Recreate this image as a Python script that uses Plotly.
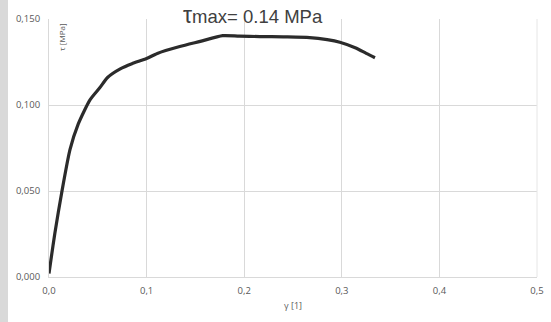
import plotly.graph_objects as go

# Data (shear strain gamma [1], shear stress tau [MPa])
gamma = [0.000, 0.002, 0.006, 0.013, 0.0215, 0.030, 0.042, 0.052, 0.060, 0.073,
         0.085, 0.100, 0.111, 0.134, 0.155, 0.178, 0.195, 0.216, 0.240, 0.267,
         0.285, 0.298, 0.315, 0.325, 0.334]
tau = [0.002, 0.010, 0.0255, 0.049, 0.074, 0.089, 0.103, 0.110, 0.116, 0.121,
       0.124, 0.127, 0.130, 0.134, 0.137, 0.1403, 0.1400, 0.1398, 0.1396, 0.1392,
       0.1380, 0.1365, 0.1330, 0.1300, 0.1275]

x_ticks = [0.0, 0.1, 0.2, 0.3, 0.4, 0.5]
y_ticks = [0.0, 0.05, 0.10, 0.15]

fig = go.Figure()
fig.add_trace(go.Scatter(x=gamma, y=tau, mode="lines",
                         line=dict(color="#2b2b2b", width=3.2, shape="spline", smoothing=0.6),
                         showlegend=False))

fig.update_layout(
    width=551, height=322,
    margin=dict(l=49, r=14, t=19, b=45, autoexpand=False),
    paper_bgcolor="white", plot_bgcolor="white",
    separators=", ",
    font=dict(family="Open Sans, Liberation Sans, sans-serif", color="#595959", size=9),
    xaxis=dict(range=[0, 0.5], tickvals=x_ticks, tickformat=".1f", automargin=False,
               showgrid=True, gridcolor="#d9d9d9", gridwidth=1,
               showline=True, linecolor="#d9d9d9", zeroline=False,
               ticks="", ticklen=0, ticklabelstandoff=5,
               tickfont=dict(size=9.5, color="#595959"),
               title=dict(text="γ [1]", font=dict(size=9, color="#595959"), standoff=6)),
    yaxis=dict(range=[0, 0.15], tickvals=y_ticks, tickformat=".3f", automargin=False,
               showgrid=True, gridcolor="#d9d9d9", gridwidth=1,
               showline=True, linecolor="#d9d9d9", mirror=False, zeroline=False,
               ticks="", ticklabelstandoff=6,
               tickfont=dict(size=9.5, color="#595959")),
    shapes=[dict(type="rect", xref="paper", yref="paper",
                 x0=-49/488, x1=-41/488, y0=-45/258, y1=1+19/258,
                 fillcolor="#d9d9d9", line=dict(width=0), layer="below"),
            dict(type="line", xref="paper", yref="paper", x0=1, x1=1, y0=0, y1=1,
                 line=dict(color="#e6e6e6", width=1))],
    annotations=[
        dict(text="τ [MPa]", xref="paper", yref="paper", x=12/488, y=1 - 2/258,
             xanchor="center", yanchor="top", textangle=-90, showarrow=False,
             font=dict(size=8, color="#595959")),
        dict(text="<span style='font-size:23px'>τ</span>max= 0.14 MPa",
             xref="paper", yref="paper", x=(181-49)/488, y=1 + 4/258,
             xanchor="left", yanchor="middle", showarrow=False,
             font=dict(size=18.5, color="#404040", family="Liberation Sans, Arial, sans-serif")),
    ],
)

fig.write_html("out.html", config={"displayModeBar": False},
               post_script="document.body.style.margin='0';")
